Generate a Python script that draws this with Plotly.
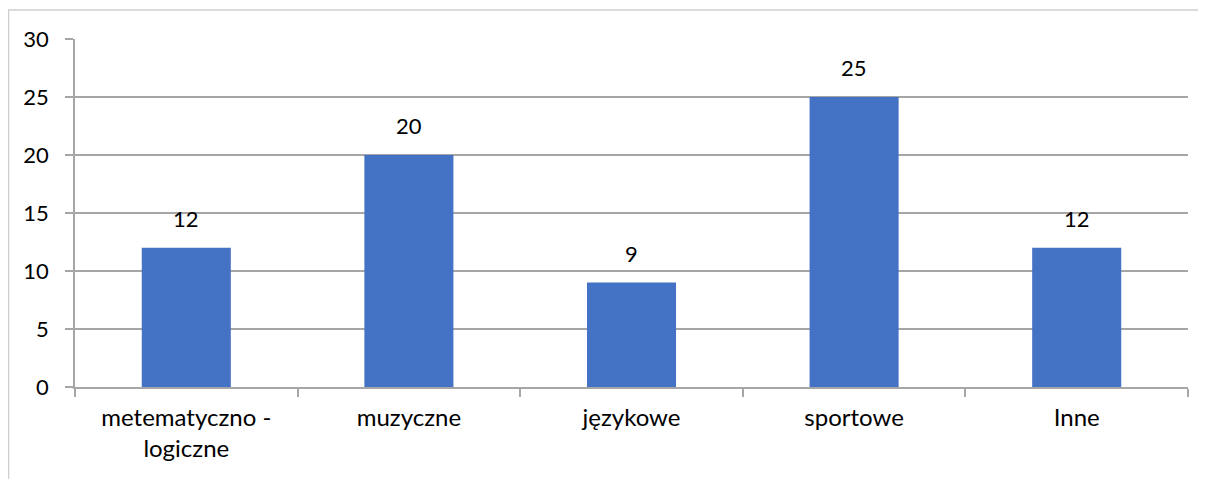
import plotly.graph_objects as go

categories = ["metematyczno -<br>logiczne", "muzyczne", "językowe", "sportowe", "Inne"]
values = [12, 20, 9, 25, 12]
y_ticks = [0, 5, 10, 15, 20, 25, 30]

font_family = "Lato, 'Open Sans', sans-serif"
grid_color = "#a6a6a6"

fig = go.Figure()
fig.add_trace(go.Bar(
    x=categories,
    y=values,
    marker=dict(color="#4472c4", line=dict(width=0)),
    width=0.4,
    hoverinfo="x+y",
))

# data labels above the bars
for cat, val in zip(categories, values):
    fig.add_annotation(
        x=cat, y=val, text=str(val), showarrow=False,
        yanchor="bottom", yshift=14,
        font=dict(family=font_family, size=22, color="#000000"),
    )

# outer chart border (cut off at right/bottom like the original)
fig.add_shape(
    type="rect", xref="paper", yref="paper",
    x0=-0.0597, x1=1.05, y0=-0.3, y1=1.083,
    line=dict(color="#cfcfcf", width=1.5),
)

# page body adds an 8px margin, so the figure is a bit smaller than the window
fig.update_layout(
    width=1198,
    height=471,
    margin=dict(l=67, r=18, t=31, b=92),
    paper_bgcolor="white",
    plot_bgcolor="white",
    showlegend=False,
    font=dict(family=font_family, size=22, color="#000000"),
)
fig.update_xaxes(
    showline=True, linecolor=grid_color, linewidth=1.5,
    ticks="outside", tickson="boundaries", ticklen=8,
    tickcolor=grid_color, tickwidth=1.5,
    showgrid=False,
    ticklabelstandoff=8,
    tickfont=dict(size=24, color="#000000"),
)
fig.update_yaxes(
    range=[0, 30], tickvals=y_ticks,
    showline=True, linecolor=grid_color, linewidth=1.5,
    ticks="outside", ticklen=8, tickcolor=grid_color, tickwidth=1.5,
    showgrid=True, gridcolor=grid_color, gridwidth=1.5,
    zeroline=False,
    ticklabelstandoff=12,
    tickfont=dict(size=22, color="#000000"),
)

fig.write_html("out.html")
